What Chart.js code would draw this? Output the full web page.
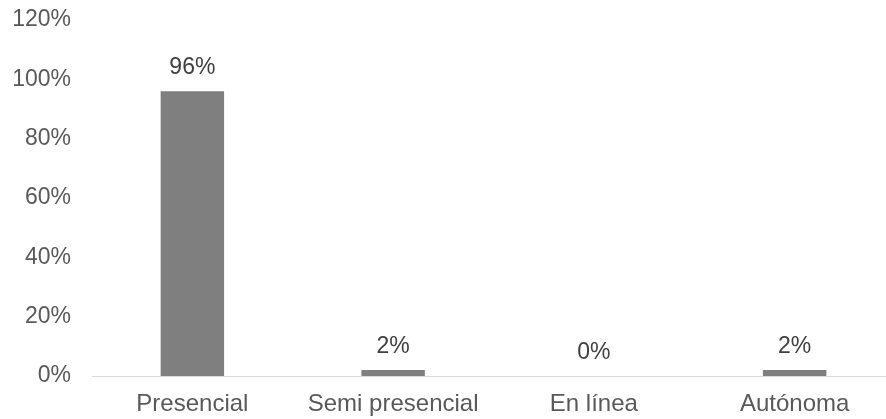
<!DOCTYPE html>
<html>
<head>
<meta charset="utf-8">
<script src="https://cdn.jsdelivr.net/npm/chart.js@4"></script>
<style>
  body { margin: 0; background: #fff; }
  /* the plot runs a little past the right edge, as in the source image */
  #wrap { width: 886px; height: 419px; overflow: hidden; }
</style>
</head>
<body>
<div id="wrap"><canvas id="barChart" width="896" height="419"></canvas></div>
<script>
const categories = ['Presencial', 'Semi presencial', 'En línea', 'Autónoma'];
const percentValues = [96, 2, 0, 2];
const yTicks = [0, 20, 40, 60, 80, 100, 120];

// draws the value labels above each bar
const valueLabels = {
  id: 'valueLabels',
  afterDatasetsDraw(chart) {
    const c = chart.ctx;
    const meta = chart.getDatasetMeta(0);
    c.save();
    c.font = '23px "Liberation Sans", Arial, sans-serif';
    c.fillStyle = '#404040';
    c.textAlign = 'center';
    c.textBaseline = 'alphabetic';
    meta.data.forEach((bar, i) => {
      c.fillText(percentValues[i] + '%', bar.x, bar.y - 17);
    });
    c.restore();
  }
};

const ctx = document.getElementById('barChart').getContext('2d');

const chart = new Chart(ctx, {
  type: 'bar',
  data: {
    labels: categories,
    datasets: [
      {
        data: percentValues,
        backgroundColor: '#7f7f7f',
        barPercentage: 0.316,
        categoryPercentage: 1
      }
    ]
  },
  options: {
    responsive: false,
    animation: false,
    layout: { padding: { top: 0, right: 1, bottom: 0, left: 0 } },
    plugins: {
      legend: { display: false },
      tooltip: { enabled: false }
    },
    scales: {
      x: {
        grid: { display: false, drawTicks: false },
        border: { color: '#d9d9d9', width: 1 },
        ticks: {
          color: '#595959',
          font: { family: '"Liberation Sans", Arial, sans-serif', size: 24 },
          padding: 14
        },
        afterFit: scale => { scale.height = 43; }
      },
      y: {
        min: 0,
        max: 120,
        afterBuildTicks: scale => { scale.ticks = yTicks.map(v => ({ value: v })); },
        grid: { display: false, drawTicks: false },
        border: { display: false },
        ticks: {
          color: '#595959',
          font: { family: '"Liberation Sans", Arial, sans-serif', size: 23 },
          padding: 21,
          callback: v => v + '%'
        },
        afterFit: scale => {
          scale.width = 92;
          scale.paddingTop = 20;
          scale.paddingBottom = 0;
        }
      }
    }
  },
  plugins: [valueLabels]
});
</script>
</body>
</html>
